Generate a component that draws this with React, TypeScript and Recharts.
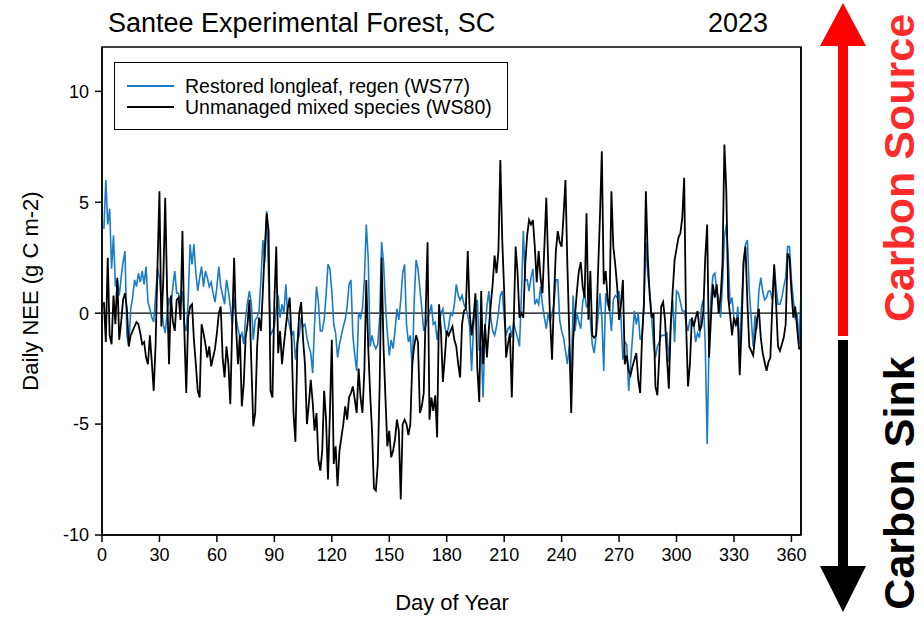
import React from 'react';
import { LineChart, Line, XAxis, YAxis, ReferenceLine, ReferenceArea } from 'recharts';

const ws77: number[] = [
  3.8, 6.0, 4.0, 4.7, 2.0, 3.5, 1.2, 1.5, 0.8, 1.6,
  2.3, 2.8, -1.0, -1.5, 0.2, 0.7, 1.5, 1.2, 1.8, 1.4,
  1.9, 1.3, 2.1, 0.5, 0.2, -0.2, -0.4, 0.8, 2.0, 1.6,
  0.5, -0.5, -0.9, 0.0, 0.7, 0.3, 1.2, 1.9, 0.9, 0.9,
  0.3, 1.0, -0.5, -0.8, 0.6, 3.1, 2.2, 3.1, 1.8, 1.0,
  1.6, 2.1, 1.2, 1.9, 1.6, 1.2, 1.4, 0.9, 0.5, 1.2,
  2.1, 1.2, 0.8, 0.4, 1.5, 1.0, 0.3, -0.5, 0.7, -0.2,
  -0.7, -1.1, -0.9, -1.4, -0.2, 0.5, 1.0, 0.4, -1.2, -0.3,
  -0.2, 0.1, 1.5, 3.3, 2.3, 4.6, 1.5, -1.0, -0.8, -0.6,
  0.2, 0.8, -0.2, 0.4, 0.0, 1.3, -0.2, -0.6, -1.0, -0.8,
  -2.1, -1.3, -1.0, -0.2, -0.6, -0.5, -1.1, -1.5, -1.8, -2.7,
  -0.5, 1.2, 0.5, -0.8, -0.8, -0.3, 0.8, 2.2, 2.0, 1.0,
  -0.5, -0.9, -2.0, -1.4, -1.0, -0.6, -0.3, 0.3, 1.3, 1.5,
  -1.0, -1.9, -2.6, 0.0, -0.2, 0.2, 1.5, 4.0, 2.5, -1.5,
  -1.0, -1.4, -1.6, -1.4, -0.2, 3.2, 2.3, 0.4, -0.9, -1.9,
  -1.2, -1.6, -0.8, 0.2, -0.3, 0.6, 1.8, 2.2, -0.5, -1.3,
  -1.0, -2.6, 0.5, 2.4, 2.0, 1.1, 0.2, -0.8, -0.6, -0.2,
  0.0, 0.4, -0.5, -0.4, -1.2, -0.6, 0.0, 0.2, -0.6, -1.0,
  -0.6, 0.0, -0.1, 0.4, 1.3, 0.8, 0.6, 0.8, 0.4, 0.2,
  -0.1, -0.6, -2.6, -0.6, 0.3, 0.6, -1.7, -1.5, -3.8, -0.7,
  0.3, 1.0, -0.2, -0.8, -1.0, -0.6, 0.0, 0.8, 1.0, -0.2,
  -1.0, -0.7, -0.6, -1.1, -0.4, -0.8, -1.1, -1.5, 0.8, 3.7,
  1.5, 1.5, 1.0, 1.6, 2.0, 0.4, 0.6, 0.4, 1.2, 0.4,
  -0.2, -0.7, 0.0, -0.4, 0.0, 0.4, 1.5, 1.5, -0.3, -0.8,
  -1.1, -1.7, -2.3, -1.5, -3.5, 0.8, -0.8, 0.0, -0.4, -0.7,
  0.5, 0.9, 0.3, 0.4, -0.3, -1.4, -1.8, -1.0, -0.2, 0.9,
  -0.2, -2.6, 0.9, 0.4, 0.2, -0.8, 0.6, 0.8, 0.7, 1.0,
  -0.2, -2.1, -1.3, -1.4, -3.5, -2.3, -1.1, 0.1, -0.5, 0.0,
  -1.2, -1.0, 0.5, 3.2, 1.7, 1.0, -0.2, -1.4, -2.0, -1.5,
  -1.3, -1.0, -1.0, -1.0, -0.9, -2.2, -0.5, 0.6, -1.3, 1.0,
  0.9, 0.5, 0.1, 0.1, -0.4, -0.8, -0.3, -0.3, -0.5, -1.3,
  -0.9, -1.1, 0.3, 0.6, -1.4, -5.9, -1.4, 0.7, 1.7, 1.8,
  1.0, 0.7, -0.2, 1.3, 3.4, 4.0, 2.5, 0.4, 0.7, -0.3,
  -0.6, 0.3, -1.8, 0.5, 2.3, 3.1, 3.3, 1.0, -0.2, -1.5,
  -0.1, -0.7, 1.0, 1.6, 1.0, 0.6, 0.7, 1.0, 1.0, 0.6,
  2.1, 1.2, 0.4, 0.4, 0.7, 1.2, 1.6, 3.0, 3.0, 1.5,
  0.6, -0.2, 0.0, -1.4, 0.9,
];

const ws80: number[] = [
  0.5, -1.3, 2.5, -1.0, -1.4, 0.8, -0.5, 1.6, -1.2, -0.4,
  0.6, 0.9, 0.2, -1.5, -1.0, -0.8, -0.6, -0.4, -0.5, -0.9,
  -1.4, -1.3, -2.0, -2.3, -1.0, -2.2, -3.5, -1.4, 2.2, 5.5,
  -0.6, 1.5, 5.2, 1.0, -2.3, 0.8, -0.4, -0.8, 0.6, 0.7,
  -0.3, 3.7, -0.8, -3.6, -0.2, 0.3, 0.4, -1.2, -2.3, -3.5,
  -3.8, -0.5, -0.9, -1.4, -2.0, -1.5, -2.4, -2.0, -1.6, -0.9,
  0.0, 0.3, -2.0, -2.9, -1.5, -2.3, -4.1, -0.5, 2.5, -0.6,
  -2.3, -1.0, -4.2, -3.2, -1.1, -0.5, 0.6, -2.3, -5.1, -4.5,
  -1.5, -0.2, -0.8, 1.0, 2.9, 4.5, 3.7, -3.5, -3.8, 0.5,
  3.0, -1.8, -0.8, -2.3, -1.4, -0.6, 0.2, 0.7, -1.2, -4.5,
  -5.8, -1.5, 0.0, 0.5, -1.2, -2.3, -5.0, -4.1, -3.0, -4.0,
  -5.3, -4.5, -6.6, -7.1, -6.2, -3.5, -4.8, -7.5, -4.5, -1.2,
  -6.8, -6.0, -7.8, -6.2, -5.6, -5.0, -4.2, -4.8, -3.8, -3.6,
  -3.3, -3.9, -4.5, -2.5, -3.8, -4.5, -2.6, 1.5, -1.5, -3.6,
  -5.3, -7.9, -8.0, -6.8, -3.2, 2.5, -1.5, -3.8, -6.0, -5.3,
  -6.5, -6.2, -5.7, -4.8, -5.3, -8.4, -5.0, -4.8, -5.0, -5.5,
  -5.0, -2.3, -1.5, -1.0, -1.3, -4.5, -4.2, -3.6, 0.0, 3.2,
  -4.8, -3.8, -4.4, -3.7, -5.6, 0.4, -0.8, -3.1, -2.0, -0.8,
  -1.0, -0.8, -0.6, -1.2, -1.5, -2.3, -2.9, -0.5, 0.1, 0.2,
  2.8, 0.0, -1.0, -0.2, 0.9, -2.5, -4.0, 1.0, -2.3, -0.5,
  -2.0, -0.7, 0.4, 1.3, 2.6, 1.8, 2.8, 6.9, 3.3, 1.0,
  -2.0, -1.4, -0.9, -3.8, -0.4, 3.0, 1.8, -0.2, 0.0, -0.2,
  2.2, 3.5, 4.2, 4.0, 4.2, 3.0, 1.4, 2.8, 1.6, 0.9,
  3.0, 5.2, 2.2, -0.3, -2.1, 0.7, 2.8, 3.7, 3.2, 3.0,
  4.4, 6.0, 2.2, -0.9, -4.5, -1.2, -0.1, 1.0, 1.9, 2.3,
  1.2, 0.7, 4.5, -0.3, 1.9, -1.0, -1.1, -1.0, 1.8, 4.3,
  7.3, 1.3, 1.9, 0.7, 0.1, 5.5, 3.0, 2.2, 1.2, -0.3,
  0.4, 1.5, -2.3, -1.9, -2.6, -2.8, -2.4, -2.1, -1.8, -3.0,
  -3.6, -1.1, 0.4, 5.5, 2.5, 0.8, -0.2, 0.0, -3.3, -3.7,
  -1.9, 0.3, 0.5, -0.3, -2.0, -3.4, -0.5, 1.0, 2.4, 2.9,
  3.4, 3.6, 4.3, 6.1, -0.5, -3.3, -2.3, -0.2, -0.6, -0.2,
  0.1, -0.8, -0.6, 0.1, 2.5, 4.0, -2.0, -0.2, 1.3, 0.7,
  1.3, 0.0, 0.7, 2.2, 7.6, 5.5, 0.7, -0.1, -1.0, -0.2,
  -0.5, -0.2, -2.8, -0.6, 2.3, 3.0, 0.5, -1.5, -1.7, -1.9,
  -1.1, -0.3, 0.2, -1.1, -1.8, -2.2, -2.6, -2.2, -2.0, 0.3,
  2.2, 0.4, -1.5, -1.7, -1.4, -1.1, -0.5, 2.7, 2.5, 1.0,
  -0.2, 0.3, -0.7, -1.6, -1.6,
];

const xTicks = [0, 30, 60, 90, 120, 150, 180, 210, 240, 270, 300, 330, 360];
const yTicks = [-10, -5, 0, 5, 10];
const seriesNames = ['Restored longleaf, regen (WS77)', 'Unmanaged mixed species (WS80)'];

const data = ws77.map((v, i) => ({ day: i + 1, ws77: v, ws80: ws80[i] }));

const FONT = '"Liberation Sans", Arial, Helvetica, sans-serif';
const BLUE = '#1a7cc4';

export default function App() {
  return (
    <div style={{ position: 'absolute', left: 0, top: 0, width: 924, height: 617, background: '#fff', fontFamily: FONT, overflow: 'hidden' }}>
      <LineChart width={924} height={617} data={data} margin={{ top: 47, right: 113, bottom: 40, left: 42 }}>
        <XAxis
          dataKey="day"
          type="number"
          domain={[0, 365]}
          ticks={xTicks}
          interval={0}
          allowDataOverflow
          height={42}
          tickSize={7}
          tickMargin={6}
          axisLine={{ stroke: '#000', strokeWidth: 1.5 }}
          tickLine={{ stroke: '#000', strokeWidth: 1.5 }}
          tick={{ fill: '#000', fontSize: 18, fontFamily: FONT }}
        />
        <YAxis
          yAxisId="left"
          type="number"
          domain={[-10, 12]}
          ticks={yTicks}
          interval={0}
          allowDataOverflow
          width={60}
          tickSize={7}
          tickMargin={6}
          axisLine={{ stroke: '#000', strokeWidth: 1.5 }}
          tickLine={{ stroke: '#000', strokeWidth: 1.5 }}
          tick={{ fill: '#000', fontSize: 18, fontFamily: FONT }}
        />
        <YAxis
          yAxisId="right"
          orientation="right"
          type="number"
          domain={[-10, 12]}
          ticks={yTicks}
          interval={0}
          allowDataOverflow
          width={10}
          tickSize={7}
          tick={false}
          axisLine={{ stroke: '#000', strokeWidth: 1.5 }}
          tickLine={{ stroke: '#000', strokeWidth: 1.5 }}
        />
        <ReferenceArea yAxisId="left" x1={0} x2={365} y1={-10} y2={12} fill="none" stroke="#000" strokeWidth={1.5} ifOverflow="visible" />
        <ReferenceLine yAxisId="left" y={0} stroke="#000" strokeWidth={1.2} />
        <Line yAxisId="left" type="linear" dataKey="ws77" stroke={BLUE} strokeWidth={1.6} dot={false} isAnimationActive={false} />
        <Line yAxisId="left" type="linear" dataKey="ws80" stroke="#000" strokeWidth={1.8} dot={false} isAnimationActive={false} />
      </LineChart>

      {/* Title and year */}
      <div style={{ position: 'absolute', left: 108, top: 8, fontSize: 27, color: '#000', whiteSpace: 'nowrap', lineHeight: '31px' }}>
        Santee Experimental Forest, SC
      </div>
      <div style={{ position: 'absolute', left: 708, top: 8, fontSize: 27, color: '#000', whiteSpace: 'nowrap', lineHeight: '31px' }}>
        2023
      </div>

      {/* Legend */}
      <div style={{ position: 'absolute', left: 114, top: 62, width: 394, height: 68, border: '1.5px solid #000', background: '#fff', boxSizing: 'border-box' }}>
        {seriesNames.map((name, i) => (
          <div key={name} style={{ position: 'absolute', left: 12, top: 12 + i * 21, height: 22, display: 'flex', alignItems: 'center', whiteSpace: 'nowrap' }}>
            <div style={{ width: 47, height: 0, borderTop: `2px solid ${i === 0 ? BLUE : '#000'}`, marginRight: 11 }} />
            <span style={{ fontSize: 19.5, color: '#000' }}>{name}</span>
          </div>
        ))}
      </div>

      {/* Axis titles */}
      <div style={{ position: 'absolute', left: 452, top: 590, transform: 'translateX(-50%)', fontSize: 22, whiteSpace: 'nowrap', color: '#000' }}>
        Day of Year
      </div>
      <svg width={924} height={617} style={{ position: 'absolute', left: 0, top: 0, pointerEvents: 'none' }}>
        <text transform="translate(30,291) rotate(-90)" textAnchor="middle" dominantBaseline="central" fontSize={22} fontFamily={FONT} fill="#000">
          Daily NEE (g C m-2)
        </text>
        {/* Carbon source arrow */}
        <rect x={838} y={40} width={10} height={296} fill="#ff0000" />
        <polygon points="820,46 866,46 843,3" fill="#ff0000" />
        <text transform="translate(899,168) rotate(-90)" textAnchor="middle" dominantBaseline="central" fontSize={43} fontWeight="bold" fontFamily={FONT} fill="#ff2a2a">
          Carbon Source
        </text>
        {/* Carbon sink arrow */}
        <rect x={838} y={340} width={10} height={230} fill="#000" />
        <polygon points="820,566 866,566 843,612" fill="#000" />
        <text transform="translate(899,483) rotate(-90)" textAnchor="middle" dominantBaseline="central" fontSize={43} fontWeight="bold" fontFamily={FONT} fill="#000">
          Carbon Sink
        </text>
      </svg>
    </div>
  );
}
